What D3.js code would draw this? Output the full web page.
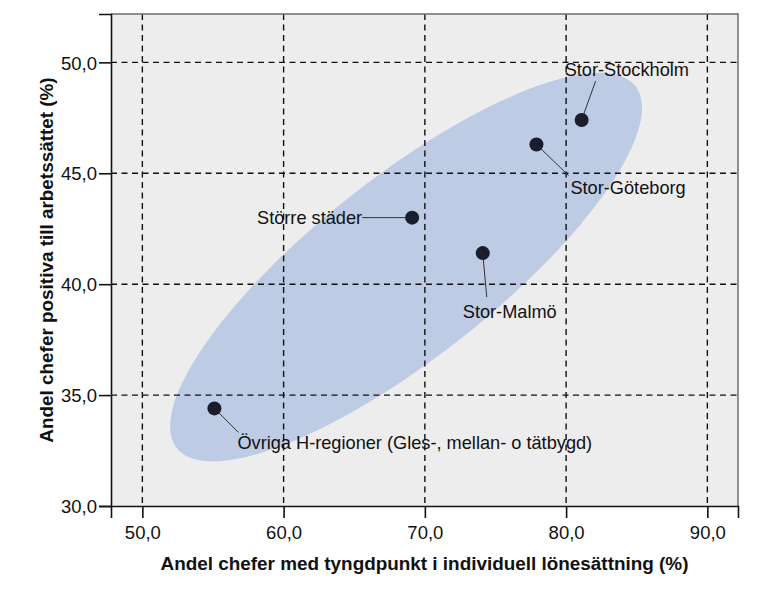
<!DOCTYPE html>
<html>
<head>
<meta charset="utf-8">
<script src="https://cdn.jsdelivr.net/npm/d3@7"></script>
<style>
  html, body { margin: 0; padding: 0; background: #ffffff; }
  svg { display: block; }
  text { font-family: "Liberation Sans", Arial, sans-serif; }
</style>
</head>
<body>
<svg id="chart" width="757" height="590"></svg>
<script>
// ---- data ----
const regions = ["Stor-Stockholm", "Stor-Göteborg", "Större städer", "Stor-Malmö", "Övriga H-regioner (Gles-, mellan- o tätbygd)"];
const xValues = [81.1, 77.9, 69.1, 74.1, 55.1];   // Andel chefer med tyngdpunkt i individuell lönesättning (%)
const yValues = [47.4, 46.3, 43.0, 41.4, 34.4];   // Andel chefer positiva till arbetssättet (%)
const xTicks = [50, 60, 70, 80, 90];
const yTicks = [30, 35, 40, 45, 50];
const xDomain = [47.78, 92.17];
const yDomain = [30, 52.18];
// ellipse (data units): centre, major half-axis vector, minor half-axis vector
const ellipseCenter = [68.67, 40.77];
const ellipseMajor = [16.23, 8.16];
const ellipseMinor = [3.95, -3.185];

// ---- layout / annotation styling (pixel offsets from each point) ----
const labelLayout = [
  { tx: -17, ty: -44, anchor: "start", lx: 14, ly: -39 },
  { tx: 34,  ty: 50,  anchor: "start", lx: 32, ly: 31 },
  { tx: -50, ty: 6,   anchor: "end",   lx: -50, ly: 0 },
  { tx: -20, ty: 65,  anchor: "start", lx: 4,  ly: 44 },
  { tx: 23,  ty: 41,  anchor: "start", lx: 24, ly: 24 }
];

const svg = d3.select("#chart");
const plot = { left: 111, right: 738, top: 14, bottom: 506 };

const x = d3.scaleLinear().domain(xDomain).range([plot.left, plot.right]);
const y = d3.scaleLinear().domain(yDomain).range([plot.bottom, plot.top]);

// background
svg.append("rect")
  .attr("x", plot.left).attr("y", plot.top)
  .attr("width", plot.right - plot.left).attr("height", plot.bottom - plot.top)
  .attr("fill", "#ededee");

// ellipse
const ts = d3.range(0, 361, 2).map(d => d * Math.PI / 180);
const ellPts = ts.map(t => [
  x(ellipseCenter[0] + Math.cos(t) * ellipseMajor[0] + Math.sin(t) * ellipseMinor[0]),
  y(ellipseCenter[1] + Math.cos(t) * ellipseMajor[1] + Math.sin(t) * ellipseMinor[1])
]);
svg.append("path")
  .attr("d", d3.line().curve(d3.curveLinearClosed)(ellPts))
  .attr("fill", "#bdcbe4");

// grid
const grid = svg.append("g");
grid.selectAll(".gx").data(xTicks).join("line")
  .attr("x1", d => x(d)).attr("x2", d => x(d))
  .attr("y1", plot.top).attr("y2", plot.bottom)
  .attr("stroke", "#111").attr("stroke-width", 1.4).attr("stroke-dasharray", "6,4.5");
grid.selectAll(".gy").data(yTicks.filter(d => d > yDomain[0])).join("line")
  .attr("x1", plot.left).attr("x2", plot.right)
  .attr("y1", d => y(d)).attr("y2", d => y(d))
  .attr("stroke", "#111").attr("stroke-width", 1.4).attr("stroke-dasharray", "6,4.5");

// frame (top/right)
svg.append("path")
  .attr("d", `M${plot.left},${plot.top}H${plot.right}V${plot.bottom}`)
  .attr("fill", "none").attr("stroke", "#6e6e6e").attr("stroke-width", 1.5);

// axes
const fmt = d => d3.format(".1f")(d).replace(".", ",");
const xAxis = svg.append("g").attr("transform", `translate(0,${plot.bottom})`)
  .call(d3.axisBottom(x).tickValues(xTicks).tickFormat(fmt).tickSize(12).tickPadding(3));
const yAxis = svg.append("g").attr("transform", `translate(${plot.left},0)`)
  .call(d3.axisLeft(y).tickValues(yTicks).tickFormat(fmt).tickSize(12).tickPadding(2));
[xAxis, yAxis].forEach(a => {
  a.select(".domain").attr("stroke", "#111").attr("stroke-width", 1.6);
  a.selectAll(".tick line").attr("stroke", "#111").attr("stroke-width", 1.6);
  a.selectAll(".tick text").attr("fill", "#111").style("font-size", "18.5px")
   .style("font-family", '"Liberation Sans", Arial, sans-serif');
});
yAxis.selectAll(".tick text").attr("dy", "0.36em");
xAxis.selectAll(".tick text").attr("dy", "0.95em");

// points and labels
const pts = regions.map((r, i) => ({ name: r, px: x(xValues[i]), py: y(yValues[i]), lay: labelLayout[i] }));

svg.append("g").selectAll("line").data(pts).join("line")
  .attr("x1", d => d.px).attr("y1", d => d.py)
  .attr("x2", d => d.px + d.lay.lx).attr("y2", d => d.py + d.lay.ly)
  .attr("stroke", "#333").attr("stroke-width", 1);

svg.append("g").selectAll("circle").data(pts).join("circle")
  .attr("cx", d => d.px).attr("cy", d => d.py).attr("r", 7)
  .attr("fill", "#1a1d2b");

svg.append("g").selectAll("text").data(pts).join("text")
  .attr("x", d => d.px + d.lay.tx).attr("y", d => d.py + d.lay.ty)
  .attr("text-anchor", d => d.lay.anchor)
  .attr("fill", "#111").style("font-size", "18.2px")
  .text(d => d.name);

// axis titles
svg.append("text")
  .attr("x", (plot.left + plot.right) / 2).attr("y", 570)
  .attr("text-anchor", "middle").attr("fill", "#111")
  .style("font-size", "18.9px").style("font-weight", "bold")
  .text("Andel chefer med tyngdpunkt i individuell lönesättning (%)");
svg.append("text")
  .attr("transform", `translate(53,${(plot.top + plot.bottom) / 2}) rotate(-90)`)
  .attr("text-anchor", "middle").attr("fill", "#111")
  .style("font-size", "18.9px").style("font-weight", "bold")
  .text("Andel chefer positiva till arbetssättet (%)");
</script>
</body>
</html>
